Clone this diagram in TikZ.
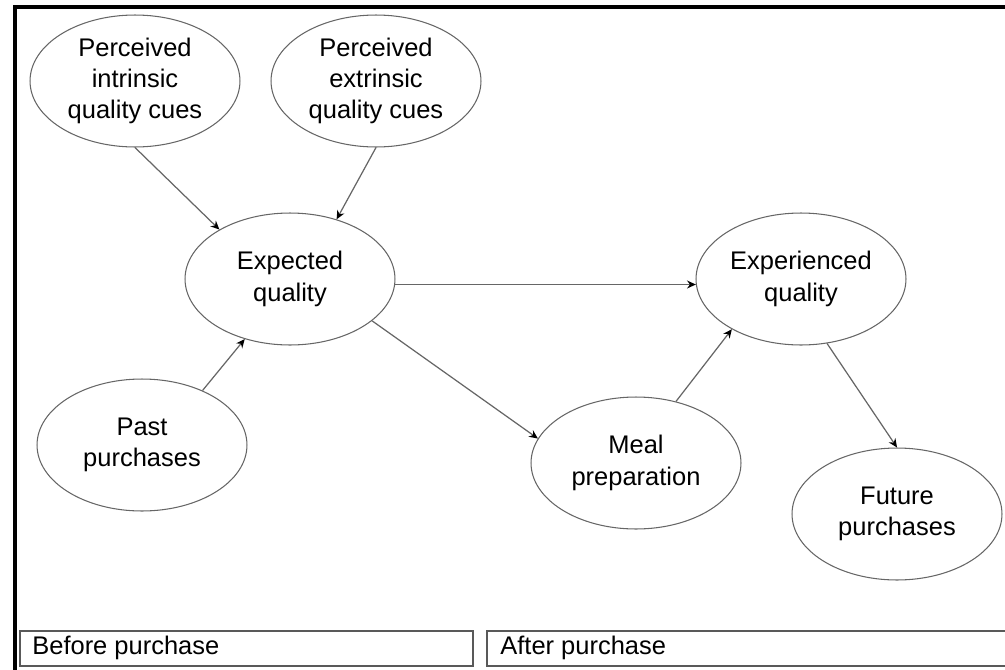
\documentclass[tikz,border=0pt]{standalone}
\usepackage{fontspec}
\setmainfont{Liberation Sans}
\usetikzlibrary{shapes.geometric,arrows.meta}

\begin{document}
\begin{tikzpicture}[
    x=0.02cm, y=-0.02cm,
    basic/.style={draw=black!60,line width=0.6pt,align=center,font=\fontsize{14.5}{17.8}\selectfont},
    oval/.style={basic,ellipse,inner sep=0pt,minimum width=4.2cm,minimum height=2.64cm},
    stage/.style={draw=black!65,line width=1.1pt},
    link/.style={draw=black!60,line width=0.7pt,-{Stealth[length=5pt,width=4.5pt,color=black]}},
]
    \useasboundingbox (0,0) rectangle (1005,670);
    % frame
    \draw[line width=1.8pt] (15,670) -- (15,7) -- (1005,7);

    % before purchase
    \node[oval] (intr) at (135,81) {Perceived\\intrinsic\\quality cues};
    \node[oval] (extr) at (376,81) {Perceived\\extrinsic\\quality cues};
    \node[oval] (expq) at (290,279) {Expected\\quality};
    \node[oval] (past) at (142,445) {Past\\purchases};

    % after purchase
    \node[oval] (expd) at (801,279) {Experienced\\quality};
    \node[oval] (meal) at (636,463) {Meal\\preparation};
    \node[oval] (futr) at (897,514) {Future\\purchases};

    % stages
    \draw[stage] (20,631) rectangle (473,666);
    \draw[stage] (1012,631) -- (487,631) -- (487,666) -- (1012,666);
    \node[anchor=west,inner sep=0pt,font=\fontsize{14.5}{17.8}\selectfont] (before) at (32,648) {Before purchase};
    \node[anchor=west,inner sep=0pt,font=\fontsize{14.5}{17.8}\selectfont] (after) at (500,648) {After purchase};

    \draw[link] (intr.south) -- (expq.145);
    \draw[link] (extr.south) -- (expq.52);
    \draw[link] (past.42) -- (expq.233);
    \draw[link] (expq.-3) -- (expd.183);
    \draw[link] (expq.-27) -- (meal.166);
    \draw[link] (meal.57) -- (expd.216);
    \draw[link] (expd.-68) -- (futr.north);
\end{tikzpicture}
\end{document}
